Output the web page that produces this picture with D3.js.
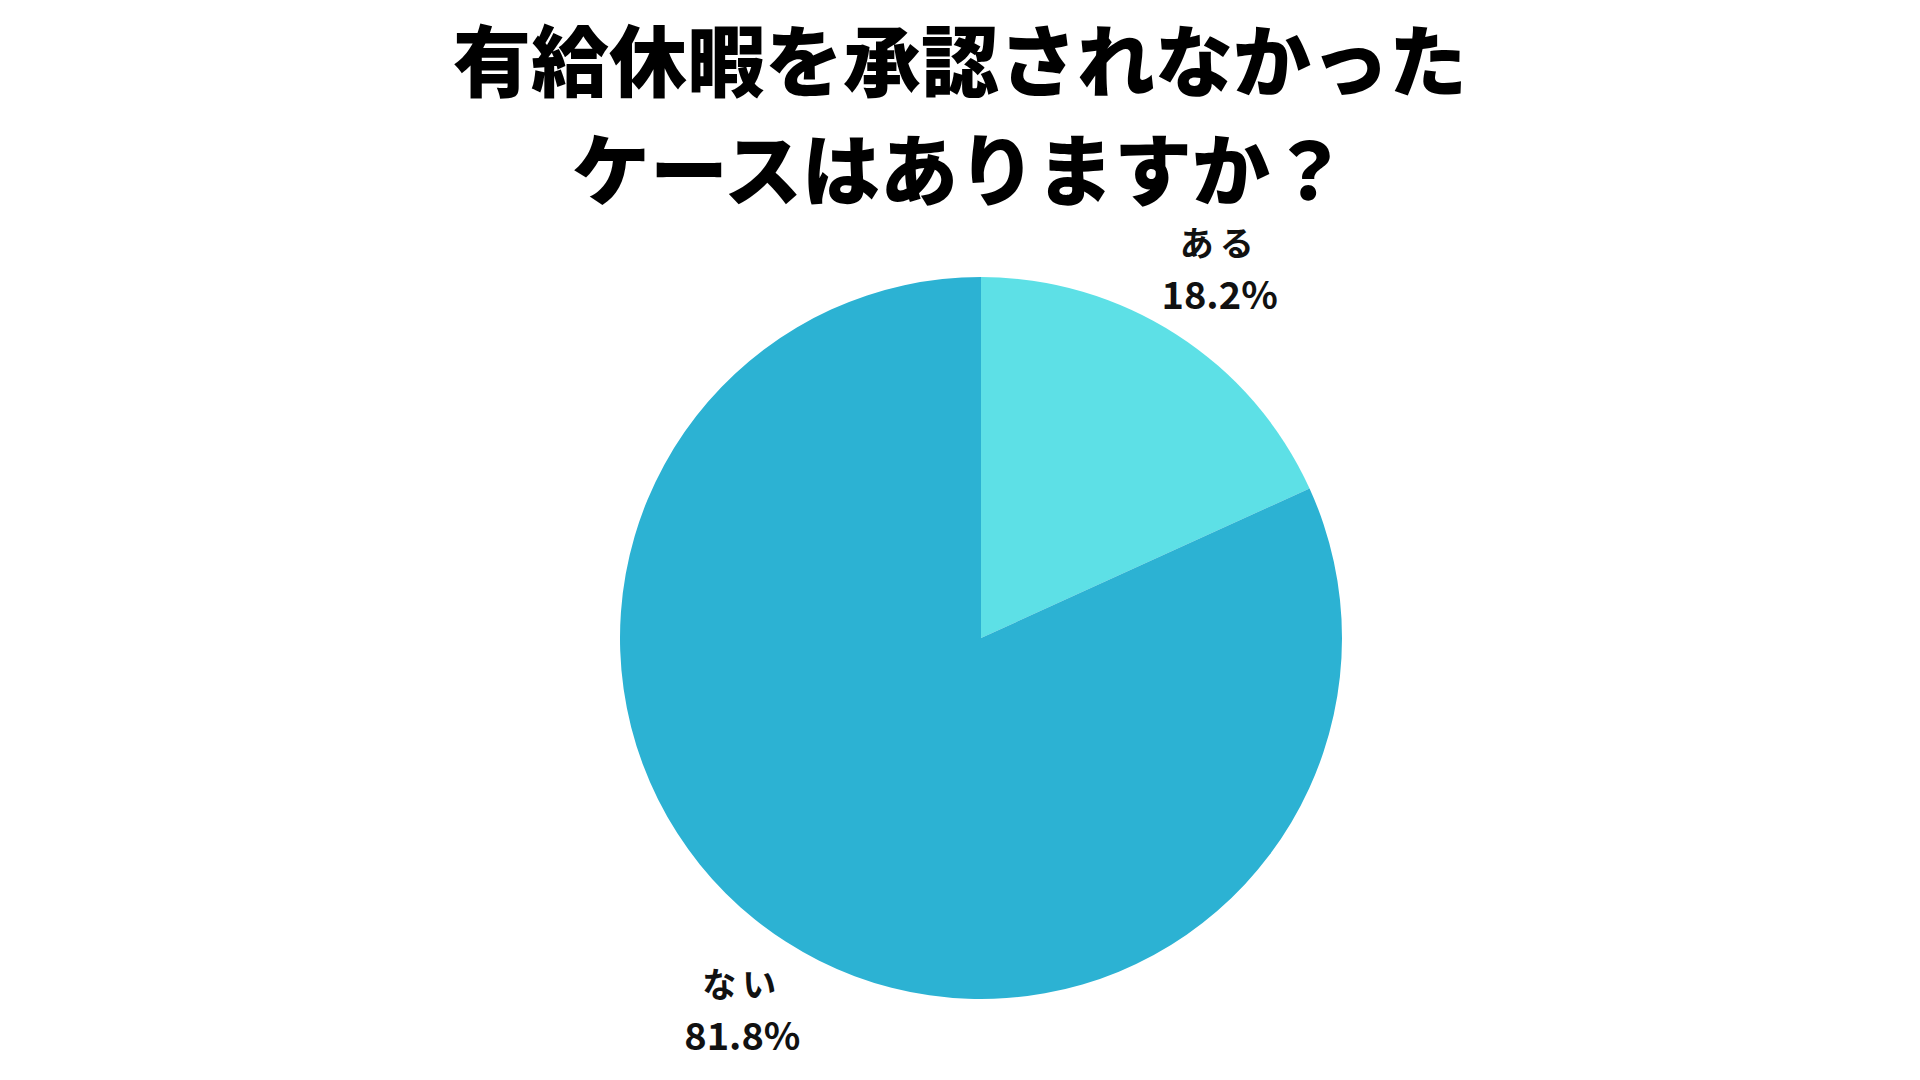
<!DOCTYPE html>
<html>
<head>
<meta charset="utf-8">
<script src="https://cdn.jsdelivr.net/npm/d3@7"></script>
<style>
  html, body { margin: 0; padding: 0; background: #ffffff; }
  svg { display: block; }
</style>
</head>
<body>
<svg id="chart" width="1920" height="1080"></svg>
<script>
const titleLines = ["有給休暇を承認されなかった", "ケースはありますか？"];
const categories = ["ある", "ない"];
const values = [18.2, 81.8];
const valueLabels = ["18.2%", "81.8%"];
const colors = ["#5DE0E6", "#2CB2D3"];

const W = 1920, H = 1080;
const cx = 981, cy = 638, R = 361, labelR = 441;
const svg = d3.select("#chart");

svg.append("rect").attr("width", W).attr("height", H).attr("fill", "#ffffff");

const title = svg.append("g").attr("class", "title");
title.selectAll("text").data(titleLines).join("text")
  .attr("x", 960)
  .attr("y", (d, i) => 57 + i * 109)
  .attr("text-anchor", "middle")
  .attr("dominant-baseline", "central")
  .attr("font-family", "'Noto Sans CJK JP', 'Noto Sans', sans-serif")
  .attr("font-weight", 900)
  .attr("font-size", 78)
  .attr("fill", "#000000")
  .text(d => d);

const data = categories.map((c, i) => ({ cat: c, value: values[i], label: valueLabels[i], color: colors[i] }));

const pie = d3.pie().sort(null).value(d => d.value).startAngle(0).endAngle(2 * Math.PI);
const arcs = pie(data);
const arc = d3.arc().innerRadius(0).outerRadius(R);
const labelArc = d3.arc().innerRadius(labelR).outerRadius(labelR);

const g = svg.append("g").attr("transform", `translate(${cx},${cy})`);
g.selectAll("path").data(arcs).join("path")
  .attr("d", arc)
  .attr("fill", d => d.data.color);

const labels = g.selectAll("g.lbl").data(arcs).join("g")
  .attr("class", "lbl")
  .attr("transform", d => `translate(${labelArc.centroid(d)})`);

labels.append("text")
  .attr("y", -26)
  .attr("text-anchor", "middle")
  .attr("dominant-baseline", "central")
  .attr("font-family", "'Noto Sans CJK JP', 'Noto Sans', sans-serif")
  .attr("font-weight", 700)
  .attr("font-size", 34)
  .attr("letter-spacing", 6)
  .attr("fill", "#111111")
  .text(d => d.data.cat);

labels.append("text")
  .attr("y", 25)
  .attr("text-anchor", "middle")
  .attr("dominant-baseline", "central")
  .attr("font-family", "'Noto Sans CJK JP', 'Noto Sans', sans-serif")
  .attr("font-weight", 700)
  .attr("font-size", 38)
  .attr("fill", "#111111")
  .text(d => d.data.label);
</script>
</body>
</html>
